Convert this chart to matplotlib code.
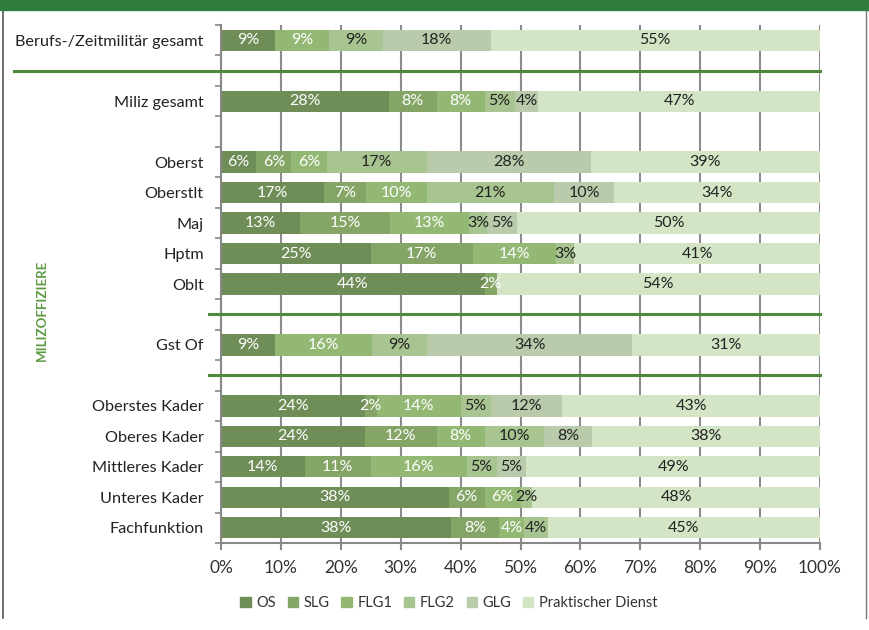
import matplotlib
matplotlib.use("Agg")
import matplotlib.pyplot as plt
import matplotlib.transforms as mtransforms
from matplotlib.lines import Line2D
from matplotlib.patches import Rectangle

plt.rcParams['font.family'] = ['Lato', 'DejaVu Sans']

rows = ['Berufs-/Zeitmilitär gesamt', '', 'Miliz gesamt', '', 'Oberst', 'Oberstlt',
        'Maj', 'Hptm', 'Oblt', '', 'Gst Of', '', 'Oberstes Kader', 'Oberes Kader',
        'Mittleres Kader', 'Unteres Kader', 'Fachfunktion']
series_names = ['OS', 'SLG', 'FLG1', 'FLG2', 'GLG', 'Praktischer Dienst']
OS   = [9, 0, 28, 0, 6, 17, 13, 25, 44, 0, 9, 0, 24, 24, 14, 38, 38]
SLG  = [0, 0, 8, 0, 6, 7, 15, 17, 2, 0, 0, 0, 2, 12, 11, 6, 8]
FLG1 = [9, 0, 8, 0, 6, 10, 13, 14, 0, 0, 16, 0, 14, 8, 16, 6, 4]
FLG2 = [9, 0, 5, 0, 17, 21, 3, 3, 0, 0, 9, 0, 5, 10, 5, 2, 4]
GLG  = [18, 0, 4, 0, 28, 10, 5, 0, 0, 0, 34, 0, 12, 8, 5, 0, 0]
PRAKT = [55, 0, 47, 0, 39, 34, 50, 41, 54, 0, 31, 0, 43, 38, 49, 48, 45]
separator_rows = [1, 9, 11]
x_ticks = [0, 10, 20, 30, 40, 50, 60, 70, 80, 90, 100]

colors = ['#6f8d57', '#84a566', '#93b874', '#a8c591', '#b9cbab', '#d4e5c6']
label_colors = ['white', 'white', 'white', '#222222', '#222222', '#222222']
green = '#4f8a3c'

fig = plt.figure(figsize=(8.69, 6.30), dpi=100)
ax = fig.add_axes([221/869, 1-543/630, (820-221)/869, (543-25)/630])

data = [OS, SLG, FLG1, FLG2, GLG, PRAKT]
totals = [sum(col) for col in zip(*data)]
ypos = list(range(len(rows)))
left = [0.0]*len(rows)
for s, (vals, c, lc) in enumerate(zip(data, colors, label_colors)):
    widths = [v / t * 100 if t else 0 for v, t in zip(vals, totals)]
    ax.barh(ypos, widths, left=left, height=0.7, color=c, edgecolor='none',
            label=series_names[s], zorder=2)
    for i, (v, w) in enumerate(zip(vals, widths)):
        if v > 0:
            ax.text(left[i] + w/2, i, f'{v}%', ha='center', va='center',
                    color=lc, fontsize=11.5, zorder=3)
    left = [l + w for l, w in zip(left, widths)]

ax.set_xlim(0, 100)
ax.set_ylim(len(rows)-0.5, -0.5)
ax.set_xticks(x_ticks)
ax.set_xticklabels([f'{t}%' for t in x_ticks], fontsize=12.5, color='#333333')
ax.set_yticks(ypos)
ax.set_yticklabels(rows, fontsize=11.7, color='#222222')
ax.tick_params(axis='y', length=0, pad=12.5)
ax.set_yticks([i - 0.5 for i in range(len(rows)+1)], minor=True)
ax.tick_params(axis='y', which='minor', length=4, color='#888888', width=1.2)
ax.tick_params(axis='x', length=5, color='#888888', width=1.5, pad=7)
ax.grid(axis='x', color='#8c8c8c', linewidth=1.5, zorder=0)
ax.set_axisbelow(True)
for sp in ['top', 'right']:
    ax.spines[sp].set_visible(False)
ax.spines['left'].set_color('#888888')
ax.spines['left'].set_linewidth(1.5)
ax.spines['bottom'].set_color('#888888')
ax.spines['bottom'].set_linewidth(1.5)

trans = mtransforms.blended_transform_factory(ax.transAxes, ax.transData)
for r in separator_rows:
    x0 = (14-221)/599 if r == 1 else (209-221)/599
    ax.plot([x0, 1.0], [r, r], color=green, linewidth=2.2, transform=trans,
            clip_on=False, zorder=4)

fig.text(42/869, 1-310/630, 'MILIZOFFIZIERE', rotation=90, ha='center',
         va='center', color='#5a9a40', fontsize=9.5, fontweight='bold')

handles = [Rectangle((0, 0), 1, 1, color=c) for c in colors]
fig.legend(handles, series_names, loc='center', bbox_to_anchor=(449/869, 1-603/630),
           ncol=6, frameon=False, fontsize=10.5, handlelength=0.7, handleheight=0.7,
           handletextpad=0.4, columnspacing=0.8, labelcolor='#333333')

# header band and frame
fig.patches.append(Rectangle((0, 1-10/630), 1, 10/630, transform=fig.transFigure,
                             color='#2f7d3e', zorder=5))
fig.add_artist(Line2D([2.5/869, 2.5/869], [1-618/630, 1-10/630], color='#555555',
                      linewidth=1.2, transform=fig.transFigure))
fig.add_artist(Line2D([866/869, 866/869], [1-618/630, 1-10/630], color='#777777',
                      linewidth=1.0, transform=fig.transFigure))

fig.savefig('out.png', dpi=100, facecolor='white')
